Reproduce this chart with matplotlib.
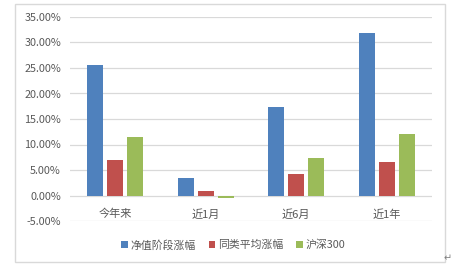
import numpy as np
import matplotlib.pyplot as plt
from matplotlib.patches import Rectangle
from matplotlib.ticker import FuncFormatter

plt.rcParams['font.family'] = ['Noto Sans CJK SC', 'DejaVu Sans']

categories = ['今年来', '近1月', '近6月', '近1年']
series_names = ['净值阶段涨幅', '同类平均涨幅', '沪深300']
nav_change = [25.6, 3.35, 17.3, 31.9]
peer_avg = [6.9, 0.8, 4.3, 6.5]
hs300 = [11.5, -0.5, 7.3, 12.0]
colors = ['#4F81BD', '#C0504D', '#9BBB59']
text_color = '#595959'
grid_color = '#D9D9D9'

fig = plt.figure(figsize=(4.71, 2.78), dpi=100)
ax = fig.add_axes([70 / 471, 1 - 221 / 278, 362 / 471, 204 / 278])

x = np.arange(len(categories))
width = 0.177
step = 0.22
for i, (vals, name) in enumerate(zip([nav_change, peer_avg, hs300], series_names)):
    ax.bar(x + (i - 1) * step, vals, width, color=colors[i], label=name, zorder=3)

ax.set_xlim(-0.5, len(categories) - 0.5)
ax.set_ylim(-5, 35)
ax.set_yticks(np.arange(-5, 36, 5))
ax.yaxis.set_major_formatter(FuncFormatter(lambda v, p: f'{v:.2f}%'))
ax.grid(axis='y', color=grid_color, linewidth=0.9, zorder=0)
ax.set_xticks(x)
ax.set_xticklabels(categories)
ax.tick_params(axis='x', length=0, pad=-8.6, labelsize=8, labelcolor=text_color)
ax.tick_params(axis='y', length=0, pad=6.5, labelsize=7.8, labelcolor=text_color)
for s in ax.spines.values():
    s.set_visible(False)
ax.patch.set_alpha(0)

fig.legend(loc='center', bbox_to_anchor=(0.495, 1 - 245 / 278), ncol=3,
           frameon=False, fontsize=7.8, labelcolor=text_color,
           handlelength=0.6, handleheight=0.6, handletextpad=0.25, columnspacing=1.2)

fig.patches.append(Rectangle((15 / 471, 1 - 262 / 278), 430 / 471, 258 / 278,
                             transform=fig.transFigure, fill=False,
                             edgecolor='#D9D9D9', linewidth=1.0))
fig.text(448 / 471, 1 - 258 / 278, '↵', fontsize=7, color='#808080',
         ha='center', va='center', family='DejaVu Sans')

fig.savefig('out.png', dpi=100)
